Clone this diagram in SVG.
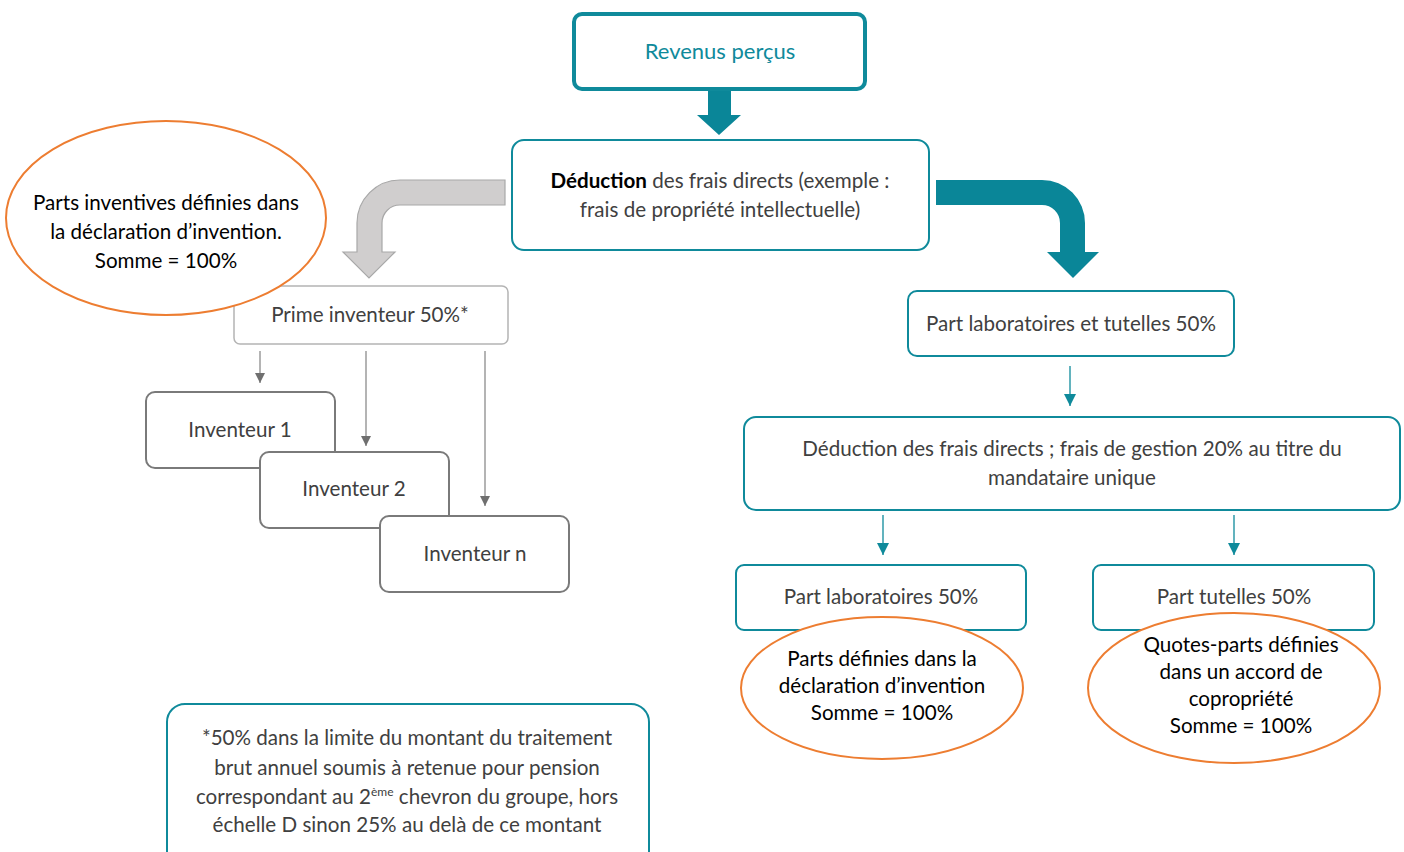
<svg xmlns="http://www.w3.org/2000/svg" width="1404" height="852" viewBox="0 0 1404 852">
  <defs>
    <style>
      text { font-family: Lato, "Open Sans", "Liberation Sans", sans-serif; font-size: 20.6px; text-anchor: middle; fill: #404040; }
      .dark { fill: #000000; }
      .title { fill: #0F8A9B; font-size: 22px; }
      .teal-box { fill: #ffffff; stroke: #0F8A9B; stroke-width: 2; }
      .gray-box { fill: #ffffff; stroke: #7A7A7A; stroke-width: 2; }
      .light-box { fill: #ffffff; stroke: #B4B4B4; stroke-width: 1.5; }
      .bubble { fill: #ffffff; stroke: #ED7D31; stroke-width: 2; }
      .gray-link { stroke: #8C8C8C; stroke-width: 1.3; fill: none; }
      .teal-link { stroke: #0F8A9B; stroke-width: 1.3; fill: none; }
    </style>
    <marker id="head-gray" viewBox="0 0 10 10" refX="10" refY="5" markerWidth="10" markerHeight="10" markerUnits="userSpaceOnUse" orient="auto">
      <path d="M0,0 L10,5 L0,10 Z" fill="#6F6F6F"/>
    </marker>
    <marker id="head-teal" viewBox="0 0 10 10" refX="10" refY="5" markerWidth="12" markerHeight="12" markerUnits="userSpaceOnUse" orient="auto">
      <path d="M0,0 L10,5 L0,10 Z" fill="#0F8A9B"/>
    </marker>
  </defs>

  <!-- connectors -->
  <g id="connectors">
    <!-- thick arrow from the top box -->
    <path d="M708,90 L731,90 L731,115 L741,115 L719,135 L697,115 L708,115 Z" fill="#0A8698"/>
    <!-- bent grey arrow to the inventor share -->
    <path d="M505,180 L400,180 A43,43 0 0 0 357,223 L357,252 L343,252 L369,278 L395,252 L382,252 L382,223 A18,18 0 0 1 400,205 L505,205 Z" fill="#D0CECE" stroke="#A8A8A8" stroke-width="1.2"/>
    <!-- bent teal arrow to the laboratories share -->
    <path d="M936,180 L1042,180 A43,43 0 0 1 1085,223 L1085,252 L1099,252 L1073,278 L1047,252 L1060,252 L1060,223 A18,18 0 0 0 1042,205 L936,205 Z" fill="#0A8698"/>
    <!-- thin grey arrows to the inventors -->
    <line class="gray-link" x1="260" y1="351" x2="260" y2="383" marker-end="url(#head-gray)"/>
    <line class="gray-link" x1="366" y1="351" x2="366" y2="446" marker-end="url(#head-gray)"/>
    <line class="gray-link" x1="485" y1="351" x2="485" y2="506" marker-end="url(#head-gray)"/>
    <!-- thin teal arrows -->
    <line class="teal-link" x1="1070" y1="366" x2="1070" y2="406" marker-end="url(#head-teal)"/>
    <line class="teal-link" x1="883" y1="515" x2="883" y2="555" marker-end="url(#head-teal)"/>
    <line class="teal-link" x1="1234" y1="515" x2="1234" y2="555" marker-end="url(#head-teal)"/>
  </g>

  <g id="revenus">
    <rect x="574" y="14" width="291" height="75" rx="8" fill="#ffffff" stroke="#0F8A9B" stroke-width="4"/>
    <text class="title" x="720" y="59">Revenus perçus</text>
  </g>

  <g id="deduction">
    <rect class="teal-box" x="512" y="140" width="417" height="110" rx="12"/>
    <text x="720" y="188"><tspan class="dark" font-weight="bold">Déduction</tspan> des frais directs (exemple :</text>
    <text x="720" y="217">frais de propriété intellectuelle)</text>
  </g>

  <g id="prime">
    <rect class="light-box" x="234" y="286" width="274" height="58" rx="6"/>
    <text x="370" y="322">Prime inventeur 50%*</text>
  </g>

  <g id="parts-inventives">
    <ellipse class="bubble" cx="166" cy="218" rx="160" ry="97"/>
    <text class="dark" x="166" y="210">Parts inventives définies dans</text>
    <text class="dark" x="166" y="239">la déclaration d’invention.</text>
    <text class="dark" x="166" y="268">Somme = 100%</text>
  </g>

  <g id="inventeur-1">
    <rect class="gray-box" x="146" y="392" width="189" height="76" rx="9"/>
    <text x="240" y="437">Inventeur 1</text>
  </g>
  <g id="inventeur-2">
    <rect class="gray-box" x="260" y="452" width="189" height="76" rx="9"/>
    <text x="354" y="496">Inventeur 2</text>
  </g>
  <g id="inventeur-n">
    <rect class="gray-box" x="380" y="516" width="189" height="76" rx="9"/>
    <text x="475" y="561">Inventeur n</text>
  </g>

  <g id="part-labos-tutelles">
    <rect class="teal-box" x="908" y="291" width="326" height="65" rx="9"/>
    <text x="1071" y="331">Part laboratoires et tutelles 50%</text>
  </g>

  <g id="frais-gestion">
    <rect class="teal-box" x="744" y="417" width="656" height="93" rx="12"/>
    <text x="1072" y="456">Déduction des frais directs ; frais de gestion 20% au titre du</text>
    <text x="1072" y="485">mandataire unique</text>
  </g>

  <g id="part-labos">
    <rect class="teal-box" x="736" y="565" width="290" height="65" rx="8"/>
    <text x="881" y="604">Part laboratoires 50%</text>
  </g>
  <g id="parts-labos-bulle">
    <ellipse class="bubble" cx="882" cy="688" rx="141" ry="71"/>
    <text class="dark" x="882" y="666">Parts définies dans la</text>
    <text class="dark" x="882" y="693">déclaration d’invention</text>
    <text class="dark" x="882" y="720">Somme = 100%</text>
  </g>

  <g id="part-tutelles">
    <rect class="teal-box" x="1093" y="565" width="281" height="65" rx="8"/>
    <text x="1234" y="604">Part tutelles 50%</text>
  </g>
  <g id="quotes-parts-bulle">
    <ellipse class="bubble" cx="1234" cy="688" rx="146" ry="75"/>
    <text class="dark" x="1241" y="652">Quotes-parts définies</text>
    <text class="dark" x="1241" y="679">dans un accord de</text>
    <text class="dark" x="1241" y="706">copropriété</text>
    <text class="dark" x="1241" y="733">Somme = 100%</text>
  </g>

  <g id="note">
    <rect class="teal-box" x="167" y="704" width="482" height="170" rx="18"/>
    <text x="407" y="745">*50% dans la limite du montant du traitement</text>
    <text x="407" y="775">brut annuel soumis à retenue pour pension</text>
    <text x="407" y="804">correspondant au 2<tspan font-size="12" dy="-8">ème</tspan><tspan dy="8"> chevron du groupe, hors</tspan></text>
    <text x="407" y="832">échelle D sinon 25% au delà de ce montant</text>
  </g>
</svg>
